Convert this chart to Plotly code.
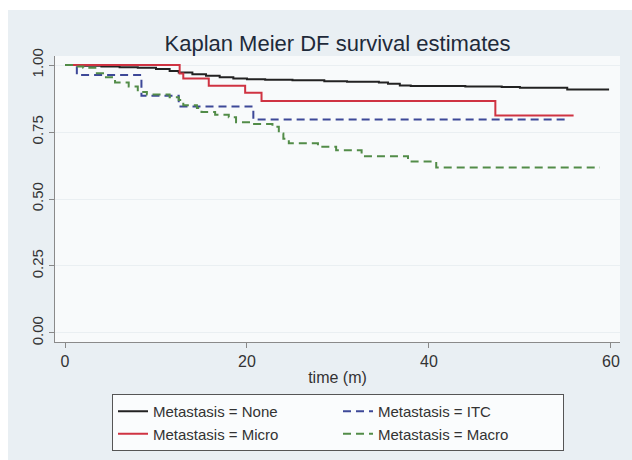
import plotly.graph_objects as go

# ---- data ----
none_t = [0, 2, 4, 6, 8, 10, 11.5, 12.5, 14, 15.5, 17, 18.5, 20, 22, 25, 28.5, 31,
          34.5, 35.5, 36.8, 38, 44, 48, 50, 55.2, 59.8]
none_s = [1.0, 0.998, 0.995, 0.992, 0.99, 0.985, 0.978, 0.972, 0.966, 0.960, 0.955,
          0.95, 0.947, 0.945, 0.943, 0.94, 0.938, 0.935, 0.93, 0.924, 0.922, 0.92,
          0.918, 0.915, 0.909, 0.909]

micro_t = [0, 12.6, 13.0, 15.8, 19.8, 21.6, 47.3, 55.9]
micro_s = [1.0, 0.969, 0.950, 0.923, 0.897, 0.866, 0.812, 0.812]

itc_t = [0, 1.3, 8.4, 12.5, 20.7, 55.2]
itc_s = [1.0, 0.963, 0.886, 0.845, 0.797, 0.797]

macro_t = [0, 1.0, 2.0, 3.5, 4.5, 5.5, 7.0, 8.0, 9.0, 11.5, 12.5, 13.0, 14.5, 15.0,
           16.5, 18.0, 18.8, 20.5, 22.8, 23.5, 24.0, 24.6, 27.8, 29.8, 32.6, 37.7,
           40.8, 58.8]
macro_s = [1.0, 0.995, 0.99, 0.97, 0.955, 0.935, 0.92, 0.90, 0.89, 0.88, 0.87, 0.85,
           0.84, 0.825, 0.815, 0.805, 0.787, 0.78, 0.77, 0.745, 0.725, 0.708, 0.695,
           0.682, 0.66, 0.64, 0.618, 0.618]

x_ticks = [0, 20, 40, 60]
y_ticks = [0, 0.25, 0.5, 0.75, 1.0]
y_ticklabels = ["0.00", "0.25", "0.50", "0.75", "1.00"]

series = [
    ("Metastasis = None", none_t, none_s, "#222222", "solid"),
    ("Metastasis = ITC", itc_t, itc_s, "#3d4898", "8px,5px"),
    ("Metastasis = Micro", micro_t, micro_s, "#cf3342", "solid"),
    ("Metastasis = Macro", macro_t, macro_s, "#528c48", "8px,5px"),
]

fig = go.Figure()
for name, t, s, color, dash in series:
    fig.add_trace(go.Scatter(
        x=t, y=s, mode="lines", name=name, line_shape="hv",
        line=dict(color=color, width=2, dash=dash),
    ))

font_family = "Liberation Sans, Arial, sans-serif"

W, H = 632, 460
ML, MR, MT, MB = 55, 12, 56, 118
PW, PH = W - ML - MR, H - MT - MB

# thin white border of the scanned figure (top and left)
fig.add_shape(type="rect", xref="paper", yref="paper", layer="above",
              x0=-ML / PW, x1=(8 - ML) / PW, y0=-MB / PH, y1=(H - MB) / PH,
              fillcolor="#ffffff", line_width=0)
fig.add_shape(type="rect", xref="paper", yref="paper", layer="above",
              x0=-ML / PW, x1=(W - ML) / PW, y0=(H - MB - 10) / PH, y1=(H - MB) / PH,
              fillcolor="#ffffff", line_width=0)

fig.update_layout(
    width=W, height=H,
    margin=dict(l=ML, r=MR, t=MT, b=MB, autoexpand=False),
    paper_bgcolor="#e9eff3",
    plot_bgcolor="#f8fafb",
    font=dict(family=font_family, size=15, color="#333333"),
    title=dict(text="Kaplan Meier DF survival estimates", x=0.5, xref="paper",
               xanchor="center", y=1 - 43 / H, yanchor="middle",
               font=dict(size=22, color="#1e2a3a", family=font_family)),
    showlegend=True,
    legend=dict(
        orientation="h", x=(112 - ML) / PW, xanchor="left",
        y=-(394 - (H - MB)) / PH, yanchor="top",
        bgcolor="#fafcfd", bordercolor="#555555", borderwidth=1,
        entrywidth=180, entrywidthmode="pixels",
        font=dict(size=15, color="#333333", family=font_family),
        traceorder="normal", tracegroupgap=0,
    ),
    xaxis=dict(
        range=[-1.1, 61.0], tickvals=x_ticks, ticks="outside", ticklen=5,
        tickcolor="#888888", showgrid=False, zeroline=False,
        showline=True, linecolor="#8a8a8a", linewidth=1,
        title=dict(text="time (m)", standoff=2, font=dict(size=16)),
        tickfont=dict(size=16, color="#333333"),
    ),
    yaxis=dict(
        range=[-0.034, 1.034], tickvals=y_ticks, ticktext=y_ticklabels,
        tickangle=-90, ticks="outside", ticklen=5, tickcolor="#888888",
        ticklabelstandoff=0,
        showgrid=True, gridcolor="#eaeff2", gridwidth=1, zeroline=False,
        showline=True, linecolor="#8a8a8a", linewidth=1,
        tickfont=dict(size=15, color="#333333"),
    ),
)

fig.write_html("out.html", config={"displayModeBar": False},
               post_script="document.body.style.margin='0';")
